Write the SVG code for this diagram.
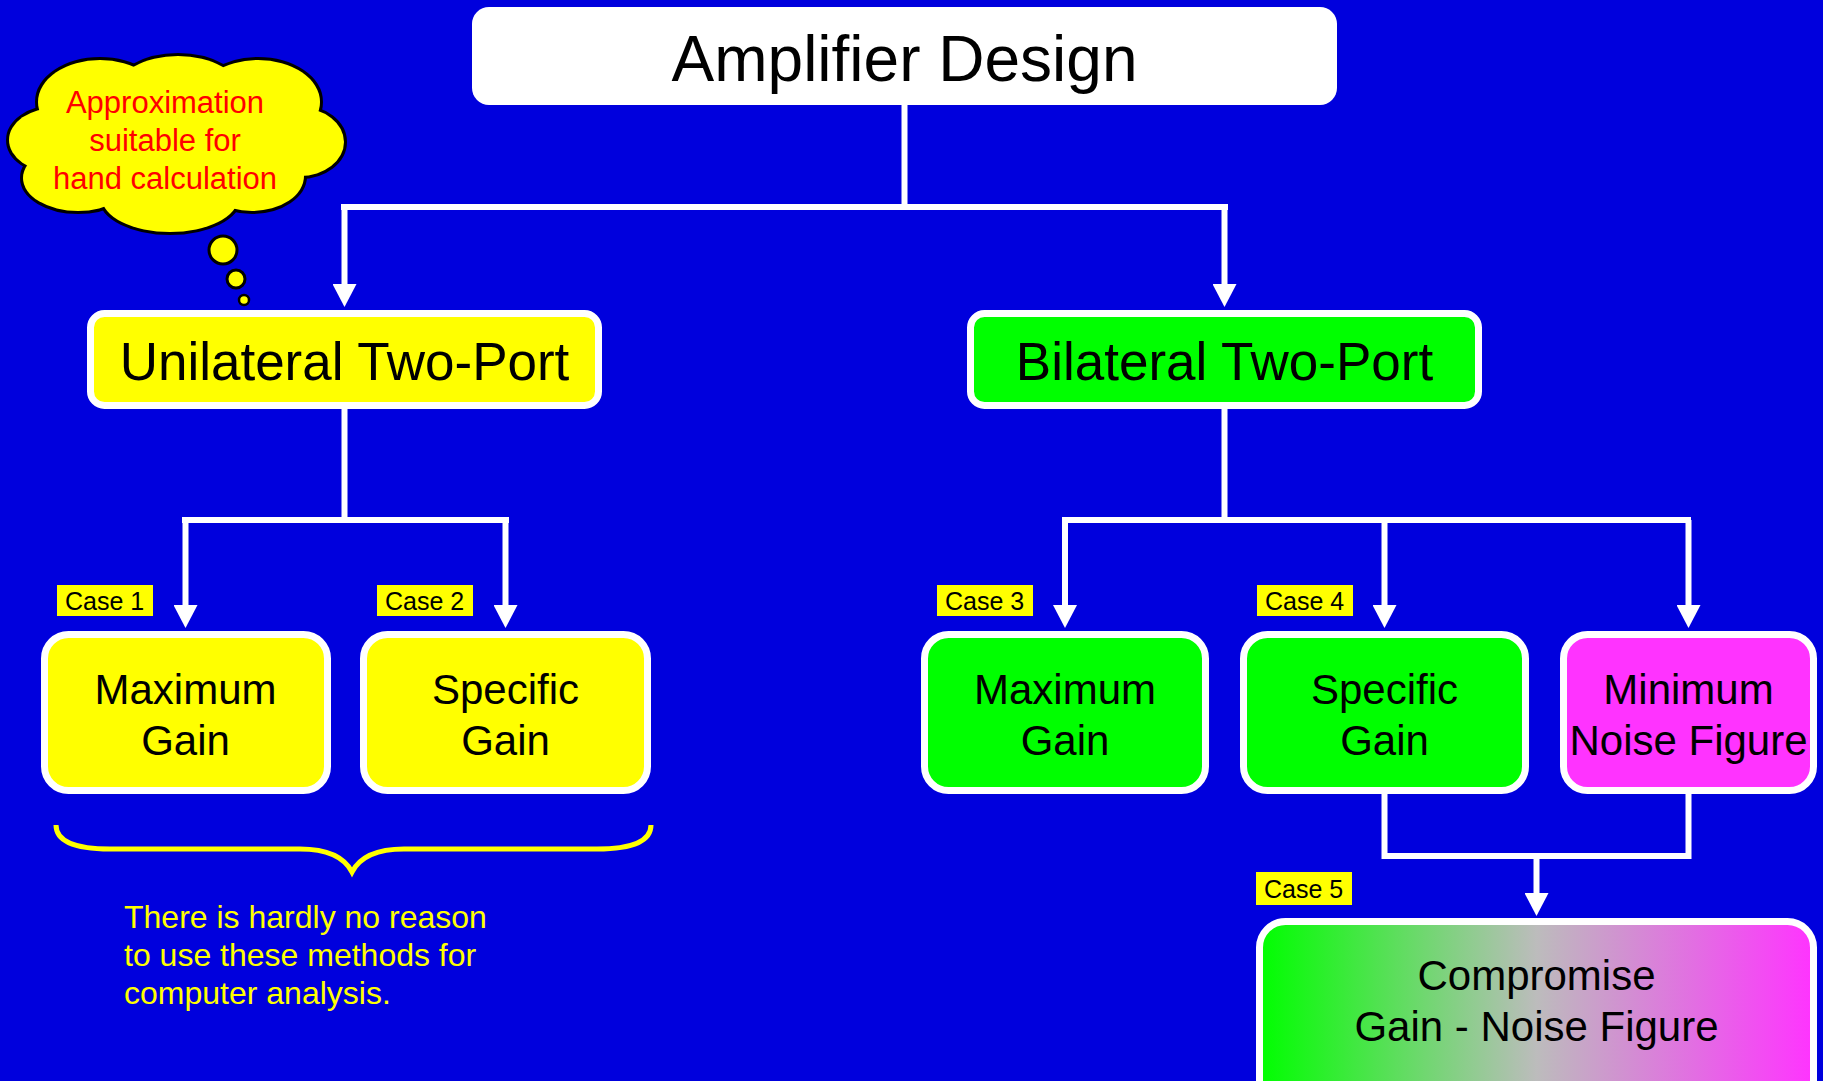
<svg xmlns="http://www.w3.org/2000/svg" width="1823" height="1081" viewBox="0 0 1823 1081">
<style>
.t{font-family:"Liberation Sans",Arial,sans-serif;text-anchor:middle;fill:#000}
.box{stroke:#fff;stroke-width:7}
.y{fill:#ffff00}.g{fill:#00ff00}.m{fill:#ff33ff}
.con{fill:none;stroke:#fff;stroke-width:6}
.case{fill:#ffff00}
.ct{font-family:"Liberation Sans",Arial,sans-serif;font-size:25px;fill:#000}
</style>
<defs>
<marker id="ah" markerUnits="userSpaceOnUse" markerWidth="24" markerHeight="24" viewBox="0 0 24 24" refX="1" refY="12" orient="auto">
<path d="M0,0 L23,12 L0,24 Z" fill="#fff"/>
</marker>
<linearGradient id="grad" x1="0" y1="0" x2="1" y2="0">
<stop offset="0" stop-color="#00ff00"/>
<stop offset="0.5" stop-color="#bcbcbc"/>
<stop offset="1" stop-color="#ff33ff"/>
</linearGradient>
</defs>
<rect width="1823" height="1081" fill="#0000dd"/>

<g id="connectors">
<path class="con" d="M904.5,105 V207 M341,207 H1228"/>
<path class="con" d="M344.5,207 V285" marker-end="url(#ah)"/>
<path class="con" d="M1224.5,207 V285" marker-end="url(#ah)"/>
<path class="con" d="M344.5,409 V520 M182,520 H509"/>
<path class="con" d="M185.5,520 V606" marker-end="url(#ah)"/>
<path class="con" d="M505.5,520 V606" marker-end="url(#ah)"/>
<path class="con" d="M1224.5,409 V520 M1062,520 H1691"/>
<path class="con" d="M1065,520 V606" marker-end="url(#ah)"/>
<path class="con" d="M1384.5,520 V606" marker-end="url(#ah)"/>
<path class="con" d="M1688.5,520 V606" marker-end="url(#ah)"/>
<path class="con" d="M1384.5,794 V856 H1688.5 V794"/>
<path class="con" d="M1536.5,856 V894" marker-end="url(#ah)"/>
</g>

<g id="cloud">
<g stroke="#000" stroke-width="6" fill="#000">
<ellipse cx="55" cy="140" rx="46" ry="32"/>
<ellipse cx="78" cy="178" rx="55" ry="33"/>
<ellipse cx="100" cy="102" rx="62" ry="42"/>
<ellipse cx="178" cy="92" rx="62" ry="36"/>
<ellipse cx="258" cy="102" rx="62" ry="42"/>
<ellipse cx="300" cy="142" rx="44" ry="34"/>
<ellipse cx="252" cy="176" rx="52" ry="35"/>
<ellipse cx="170" cy="198" rx="68" ry="34"/>
</g>
<g fill="#ffff00">
<ellipse cx="55" cy="140" rx="46" ry="32"/>
<ellipse cx="78" cy="178" rx="55" ry="33"/>
<ellipse cx="100" cy="102" rx="62" ry="42"/>
<ellipse cx="178" cy="92" rx="62" ry="36"/>
<ellipse cx="258" cy="102" rx="62" ry="42"/>
<ellipse cx="300" cy="142" rx="44" ry="34"/>
<ellipse cx="252" cy="176" rx="52" ry="35"/>
<ellipse cx="170" cy="198" rx="68" ry="34"/>
<ellipse cx="175" cy="145" rx="125" ry="58"/>
</g>
<circle cx="223" cy="250" r="14" fill="#ffff00" stroke="#000" stroke-width="3"/>
<circle cx="236" cy="279" r="9" fill="#ffff00" stroke="#000" stroke-width="3"/>
<circle cx="244" cy="300" r="5" fill="#ffff00" stroke="#000" stroke-width="2.5"/>
<g font-family="Liberation Sans, Arial, sans-serif" font-size="31" fill="#ff0000" text-anchor="middle">
<text x="165" y="113">Approximation</text>
<text x="165" y="151">suitable for</text>
<text x="165" y="189">hand calculation</text>
</g>
</g>

<g id="amplifier-design">
<rect x="472" y="7" width="865" height="98" rx="17" fill="#fff"/>
<text class="t" x="904.5" y="81" font-size="64">Amplifier Design</text>
</g>

<g id="unilateral">
<rect class="box y" x="90.5" y="313.5" width="508" height="92" rx="14"/>
<text class="t" x="344.5" y="380" font-size="53">Unilateral Two-Port</text>
</g>

<g id="bilateral">
<rect class="box g" x="970.5" y="313.5" width="508" height="92" rx="14"/>
<text class="t" x="1224.5" y="380" font-size="53">Bilateral Two-Port</text>
</g>

<g id="case1">
<rect class="case" x="57" y="585" width="96" height="31"/>
<text class="ct" x="65" y="610">Case 1</text>
<rect class="box y" x="44.5" y="634.5" width="283" height="156" rx="24"/>
<text class="t" x="185.5" y="704" font-size="42">Maximum</text>
<text class="t" x="185.5" y="755" font-size="42">Gain</text>
</g>

<g id="case2">
<rect class="case" x="377" y="585" width="96" height="31"/>
<text class="ct" x="385" y="610">Case 2</text>
<rect class="box y" x="363.5" y="634.5" width="284" height="156" rx="24"/>
<text class="t" x="505.5" y="704" font-size="42">Specific</text>
<text class="t" x="505.5" y="755" font-size="42">Gain</text>
</g>

<g id="case3">
<rect class="case" x="937" y="585" width="96" height="31"/>
<text class="ct" x="945" y="610">Case 3</text>
<rect class="box g" x="924.5" y="634.5" width="281" height="156" rx="24"/>
<text class="t" x="1065" y="704" font-size="42">Maximum</text>
<text class="t" x="1065" y="755" font-size="42">Gain</text>
</g>

<g id="case4">
<rect class="case" x="1257" y="585" width="96" height="31"/>
<text class="ct" x="1265" y="610">Case 4</text>
<rect class="box g" x="1243.5" y="634.5" width="282" height="156" rx="24"/>
<text class="t" x="1384.5" y="704" font-size="42">Specific</text>
<text class="t" x="1384.5" y="755" font-size="42">Gain</text>
</g>

<g id="min-noise">
<rect class="box m" x="1563.5" y="634.5" width="250" height="156" rx="24"/>
<text class="t" x="1688.5" y="704" font-size="42">Minimum</text>
<text class="t" x="1688.5" y="755" font-size="42">Noise Figure</text>
</g>

<g id="case5">
<rect class="case" x="1256" y="872" width="96" height="33"/>
<text class="ct" x="1264" y="898">Case 5</text>
<rect class="box" fill="url(#grad)" x="1259.5" y="921.5" width="554" height="200" rx="26"/>
<text class="t" x="1536.5" y="990" font-size="42">Compromise</text>
<text class="t" x="1536.5" y="1041" font-size="42">Gain - Noise Figure</text>
</g>

<g id="note">
<path d="M56,825 Q56,849 110,849 H300 Q340,849 352,872 Q364,849 404,849 H597 Q651,849 651,825" fill="none" stroke="#ffff00" stroke-width="5"/>
<g font-family="Liberation Sans, Arial, sans-serif" font-size="32" fill="#ffff00">
<text x="124" y="928">There is hardly no reason</text>
<text x="124" y="966">to use these methods for</text>
<text x="124" y="1004">computer analysis.</text>
</g>
</g>
</svg>
